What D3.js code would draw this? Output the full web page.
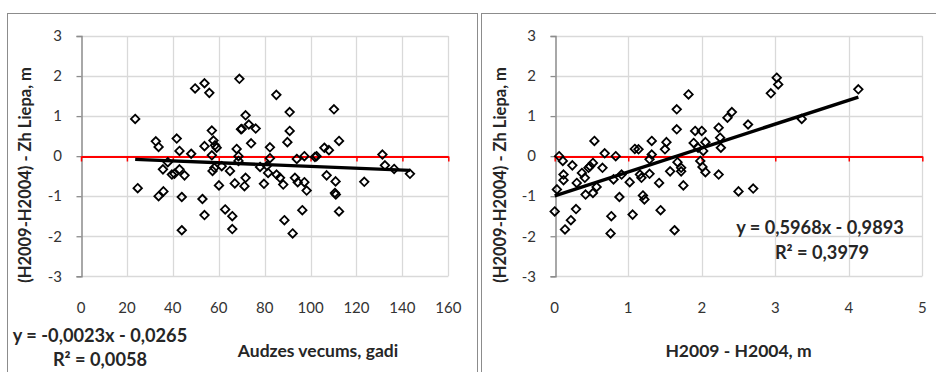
<!DOCTYPE html>
<html>
<head>
<meta charset="utf-8">
<script src="https://cdn.jsdelivr.net/npm/d3@7"></script>
<style>
  html, body { margin: 0; padding: 0; background: #fff; }
  svg { display: block; }
  text { font-family: Lato, "Liberation Sans", sans-serif; }
</style>
</head>
<body>
<svg id="chart" width="936" height="372"></svg>
<script>
// ---------- DATA ----------
// Left chart: stand age (years) vs height difference (m)
const ageX = [23.6,24.7,32.6,33.8,33.8,35.9,35.7,37.8,39.6,40.7,41.7,42.9,42.9,45.1,43.9,43.9,48.0,49.7,53.8,55.9,
  53.8,57.0,57.7,58.4,59.1,57.0,57.3,58.1,52.9,53.8,60.1,61.3,62.8,64.9,65.9,65.9,67.0,67.8,68.6,68.6,
  69.0,69.7,70.0,71.7,73.1,76.1,74.1,71.2,71.7,78.0,79.7,82.3,82.3,81.0,81.5,
  85.1,90.9,90.9,89.9,85.2,86.7,88.1,88.6,92.2,94.0,93.2,94.4,96.4,97.3,97.3,98.3,101.9,102.6,106.0,108.0,
  107.0,110.2,112.4,110.9,110.6,111.0,112.4,123.4,131.3,132.4,136.4,143.3];
const ageDiff = [0.93,-0.80,0.37,0.23,-1.00,-0.88,-0.33,-0.15,-0.46,-0.44,0.44,0.13,-0.33,-0.48,-1.02,-1.85,0.06,1.69,1.82,1.58,
  0.25,0.64,0.39,0.27,0.21,0.02,-0.37,-0.29,-1.07,-1.47,-0.73,-0.25,-1.33,-0.37,-1.50,-1.82,-0.68,0.18,0.00,-0.12,
  1.93,0.67,0.68,1.02,0.79,0.69,0.32,-0.75,-0.54,-0.27,-0.69,0.22,-0.05,-0.24,-0.42,
  1.53,1.10,0.63,0.35,-0.46,-0.54,-0.71,-1.60,-1.93,-0.07,-0.54,-0.65,-1.35,0.00,-0.65,-0.86,-0.02,0.00,0.21,0.15,
  -0.48,1.17,0.38,-0.63,-0.92,-0.96,-1.38,-0.64,0.04,-0.23,-0.32,-0.44];

// Right chart: H2009 - H2004 (m) vs height difference (m)
const dhX = [0.06,0.11,0.03,0.12,0.12,0.24,0.00,0.14,0.22,0.29,0.30,0.37,0.41,0.42,0.46,0.48,0.52,0.54,0.52,0.57,
  0.65,0.68,0.80,0.83,0.88,0.77,0.76,0.91,1.02,1.06,1.09,1.14,1.16,1.18,1.20,1.22,1.29,1.32,1.32,1.29,
  1.42,1.44,1.50,1.52,1.57,1.63,1.66,1.66,1.67,
  1.82,1.72,1.72,1.75,1.89,1.91,2.00,1.95,1.98,2.01,2.05,2.02,2.05,2.23,2.25,2.26,2.23,2.35,2.41,2.63,2.50,
  2.70,2.94,3.02,3.04,3.36,4.13];
const dhDiff = [0.00,-0.12,-0.83,-0.46,-0.60,-0.23,-1.38,-1.83,-1.60,-1.32,-0.67,-0.42,-0.54,-0.96,-0.29,-0.25,-0.17,0.38,-0.92,-0.77,
  -0.29,0.07,-0.58,0.00,-1.02,-1.50,-1.93,-0.46,-0.65,-1.46,0.18,0.17,-0.46,-0.54,-0.98,-1.08,-0.44,0.38,0.04,-0.08,
  -0.67,-1.35,0.17,0.35,-0.38,-1.85,1.17,0.67,-0.15,
  1.54,-0.29,-0.38,-0.73,0.33,0.63,0.63,0.21,-0.12,-0.27,-0.40,0.13,0.35,0.71,0.46,0.21,-0.46,0.96,1.10,0.79,-0.88,
  -0.81,1.57,1.96,1.79,0.93,1.67];

// Ticks
const yTickValues = [-3,-2,-1,0,1,2,3];
const ageTickValues = [0,20,40,60,80,100,120,140,160];
const dhTickValues = [0,1,2,3,4,5];

// Trend line coefficients (as shown on chart)
const ageSlope = -0.0023, ageIntercept = -0.0265;
const dhSlope = 0.5968, dhIntercept = -0.9893;

// Texts
const yTitle = "(H2009-H2004) - Zh Liepa, m";
const ageTitle = "Audzes vecums, gadi";
const dhTitle = "H2009 - H2004, m";
const ageEq = "y = -0,0023x - 0,0265";
const ageR2 = "R² = 0,0058";
const dhEq = "y = 0,5968x - 0,9893";
const dhR2 = "R² = 0,3979";

// ---------- DRAW ----------
const svg = d3.select("#chart");
const TXT = "#262626";

// outer frames
svg.append("rect").attr("x", 7.5).attr("y", 13.5).attr("width", 470).attr("height", 400)
  .attr("fill", "none").attr("stroke", "#8c8c8c").attr("stroke-width", 1);
svg.append("rect").attr("x", 481.5).attr("y", 13.5).attr("width", 470).attr("height", 400)
  .attr("fill", "none").attr("stroke", "#8c8c8c").attr("stroke-width", 1);

function panel(cfg) {
  const x = d3.scaleLinear().domain([cfg.xTicks[0], cfg.xTicks[cfg.xTicks.length - 1]]).range(cfg.xRange);
  const y = d3.scaleLinear().domain([-3, 3]).range([276.3, 36]);
  const g = svg.append("g");

  // gridlines
  g.append("g").selectAll("line").data(yTickValues).join("line")
    .attr("x1", x.range()[0]).attr("x2", x.range()[1])
    .attr("y1", d => Math.round(y(d)) + 0.5).attr("y2", d => Math.round(y(d)) + 0.5)
    .attr("stroke", "#d9d9d9").attr("stroke-width", 1.3);
  g.append("g").selectAll("line").data(cfg.xTicks.slice(1)).join("line")
    .attr("x1", d => Math.round(x(d)) + 0.5).attr("x2", d => Math.round(x(d)) + 0.5)
    .attr("y1", y(3)).attr("y2", y(-3))
    .attr("stroke", "#d9d9d9").attr("stroke-width", 1.3);

  // y axis (line + ticks)
  const yAxis = g.append("g").attr("transform", `translate(${Math.round(x.range()[0]) + 0.5},0)`)
    .call(d3.axisLeft(y).tickValues(yTickValues).tickSize(5).tickFormat(""));
  yAxis.select(".domain").attr("stroke", "#8c8c8c").attr("stroke-width", 1.5);
  yAxis.selectAll(".tick line").attr("stroke", "#8c8c8c").attr("stroke-width", 1.3);

  // y tick labels
  g.append("g").selectAll("text").data(yTickValues).join("text")
    .attr("x", cfg.yLabelX).attr("y", d => y(d)).attr("dy", "0.35em")
    .attr("text-anchor", "end").attr("font-size", 15).attr("fill", "#333")
    .text(d => d);

  // red horizontal axis at y = 0 with ticks
  const xAxis = g.append("g").attr("transform", `translate(0,${Math.round(y(0)) + 0.5})`)
    .call(d3.axisBottom(x).tickValues(cfg.xTicks).tickSize(5).tickSizeOuter(0).tickFormat(""));
  xAxis.select(".domain").attr("stroke", "#ff0000").attr("stroke-width", 2.2);
  xAxis.selectAll(".tick line").attr("stroke", "#ff0000").attr("stroke-width", 1.5);

  // x tick labels (low position)
  g.append("g").selectAll("text").data(cfg.xTicks).join("text")
    .attr("x", d => x(d)).attr("y", 308).attr("dy", "0.35em")
    .attr("text-anchor", "middle").attr("font-size", 15).attr("fill", "#333")
    .text(d => d);

  // markers
  const diamond = d3.symbol().type(d3.symbolDiamond2).size(46);
  g.append("g").selectAll("path").data(cfg.xs.map((v, i) => [v, cfg.ys[i]])).join("path")
    .attr("transform", d => `translate(${x(d[0])},${y(d[1])})`)
    .attr("d", diamond)
    .attr("fill", "none").attr("stroke", "#000").attr("stroke-width", 1.8);

  // trend line
  const x0 = d3.min(cfg.xs), x1 = d3.max(cfg.xs);
  g.append("line")
    .attr("x1", x(x0)).attr("y1", y(cfg.slope * x0 + cfg.intercept))
    .attr("x2", x(x1)).attr("y2", y(cfg.slope * x1 + cfg.intercept))
    .attr("stroke", "#000").attr("stroke-width", 3.4);

  // axis titles
  g.append("text").attr("transform", `translate(${cfg.yTitleX},${175}) rotate(-90)`)
    .attr("text-anchor", "middle").attr("dy", "0.35em")
    .attr("font-size", 16.5).attr("font-weight", "bold").attr("fill", TXT)
    .text(yTitle);
  g.append("text").attr("x", cfg.xTitleX).attr("y", 351).attr("dy", "0.35em")
    .attr("text-anchor", "middle").attr("font-size", 17.5).attr("font-weight", "bold").attr("fill", TXT)
    .text(cfg.xTitle);

  // equation
  g.append("text").attr("x", cfg.eqX).attr("y", cfg.eqY).attr("dy", "0.35em")
    .attr("text-anchor", "middle").attr("font-size", 18.2).attr("font-weight", "bold").attr("fill", TXT)
    .text(cfg.eq);
  g.append("text").attr("x", cfg.r2X).attr("y", cfg.r2Y).attr("dy", "0.35em")
    .attr("text-anchor", "middle").attr("font-size", 18.2).attr("font-weight", "bold").attr("fill", TXT)
    .text(cfg.r2);
}

panel({ xTicks: ageTickValues, xRange: [81, 448.3], xs: ageX, ys: ageDiff,
  slope: ageSlope, intercept: ageIntercept, r2: ageR2, eq: ageEq,
  yLabelX: 62, yTitleX: 25, xTitle: ageTitle, xTitleX: 318,
  eqX: 100, eqY: 336, r2X: 100, r2Y: 360 });
panel({ xTicks: dhTickValues, xRange: [554.7, 922.3], xs: dhX, ys: dhDiff,
  slope: dhSlope, intercept: dhIntercept, r2: dhR2, eq: dhEq,
  yLabelX: 536, yTitleX: 500, xTitle: dhTitle, xTitleX: 738.5,
  eqX: 820, eqY: 228, r2X: 822, r2Y: 253 });
</script>
</body>
</html>
